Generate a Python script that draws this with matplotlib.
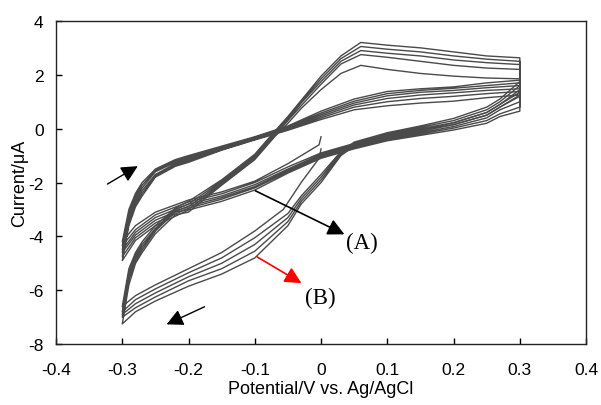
#Cyclic voltammogram, two sets of repeated scans (A) and (B)

import numpy as np
import matplotlib.pyplot as plt

plt.rcParams['font.family'] = ['Liberation Sans', 'DejaVu Sans']
plt.rcParams['axes.unicode_minus'] = False

#Set (A): smaller loops
start_A_E = [0.0, -0.003, -0.05, -0.1]
start_A_I = [-0.3, -0.6, -1.3, -1.95]

cath_A_E = [0.3, 0.27, 0.25, 0.2, 0.15, 0.1, 0.05, 0.0, -0.05, -0.1, -0.15, -0.2, -0.25, -0.28, -0.3]
cath_A_I = [
    [1.5, 1.0, 0.7, 0.3, 0.0, -0.2, -0.5, -0.85, -1.35, -1.95, -2.35, -2.65, -3.1, -3.6, -4.2],
    [1.35, 0.9, 0.6, 0.22, -0.05, -0.25, -0.55, -0.9, -1.42, -2.0, -2.42, -2.72, -3.2, -3.75, -4.35],
    [1.2, 0.8, 0.5, 0.15, -0.1, -0.3, -0.6, -0.95, -1.5, -2.08, -2.5, -2.8, -3.3, -3.85, -4.5],
    [1.0, 0.7, 0.4, 0.08, -0.15, -0.35, -0.65, -1.0, -1.55, -2.15, -2.56, -2.88, -3.4, -3.95, -4.6],
    [0.8, 0.55, 0.3, 0.02, -0.2, -0.4, -0.7, -1.05, -1.6, -2.2, -2.62, -2.95, -3.5, -4.05, -4.75],
    [0.65, 0.45, 0.2, -0.05, -0.25, -0.45, -0.75, -1.1, -1.65, -2.28, -2.7, -3.02, -3.6, -4.15, -4.9],
]

an_A_E = [-0.3, -0.29, -0.28, -0.27, -0.25, -0.22, -0.2, -0.15, -0.1, -0.05, 0.0, 0.05, 0.1, 0.15, 0.2, 0.25, 0.3]
an_A_I = [
    [-4.2, -3.0, -2.4, -2.0, -1.5, -1.15, -1.0, -0.65, -0.3, 0.1, 0.65, 1.1, 1.38, 1.48, 1.55, 1.7, 1.8],
    [-4.35, -3.15, -2.5, -2.1, -1.55, -1.2, -1.05, -0.7, -0.33, 0.07, 0.58, 1.02, 1.3, 1.42, 1.5, 1.6, 1.7],
    [-4.5, -3.3, -2.6, -2.2, -1.6, -1.25, -1.1, -0.72, -0.36, 0.04, 0.52, 0.95, 1.22, 1.35, 1.42, 1.52, 1.6],
    [-4.6, -3.4, -2.7, -2.3, -1.7, -1.3, -1.15, -0.75, -0.38, 0.0, 0.46, 0.88, 1.12, 1.25, 1.33, 1.42, 1.48],
    [-4.75, -3.5, -2.8, -2.4, -1.75, -1.35, -1.2, -0.78, -0.4, -0.03, 0.4, 0.8, 1.0, 1.12, 1.2, 1.3, 1.38],
    [-4.9, -3.6, -2.9, -2.5, -1.8, -1.4, -1.25, -0.8, -0.42, -0.06, 0.34, 0.7, 0.85, 0.95, 1.02, 1.15, 1.25],
]

#Set (B): larger loops with the anodic peak near 0.06 V
start_B_E = [0.0, -0.003, -0.03, -0.057, -0.1]
start_B_I = [-0.75, -1.1, -2.0, -3.0, -3.8]

cath_B_E = [0.3, 0.27, 0.25, 0.2, 0.15, 0.1, 0.05, 0.03, 0.0, -0.03, -0.05, -0.1, -0.15, -0.2, -0.25, -0.28, -0.3]
cath_B_I = [
    [1.9, 1.2, 0.9, 0.45, 0.15, -0.1, -0.45, -0.8, -1.6, -2.4, -3.0, -3.8, -4.6, -5.2, -5.8, -6.2, -6.6],
    [1.75, 1.1, 0.8, 0.38, 0.1, -0.15, -0.5, -0.85, -1.7, -2.5, -3.15, -4.05, -4.8, -5.35, -5.95, -6.35, -6.8],
    [1.6, 1.0, 0.7, 0.3, 0.05, -0.2, -0.55, -0.9, -1.8, -2.6, -3.3, -4.3, -5.0, -5.5, -6.1, -6.5, -6.9],
    [1.45, 0.9, 0.6, 0.22, 0.0, -0.25, -0.6, -0.95, -1.9, -2.7, -3.45, -4.55, -5.2, -5.65, -6.25, -6.65, -7.0],
    [1.25, 0.8, 0.5, 0.15, -0.05, -0.3, -0.65, -1.0, -2.0, -2.8, -3.6, -4.8, -5.4, -5.85, -6.4, -6.8, -7.25],
]

an_B_E = [-0.3, -0.29, -0.28, -0.27, -0.25, -0.22, -0.2, -0.15, -0.1, -0.07, -0.05, -0.03, 0.0, 0.03, 0.06, 0.1, 0.15, 0.2, 0.25, 0.3]
an_B_I = [
    [-6.6, -5.2, -4.6, -4.2, -3.6, -2.95, -2.7, -1.9, -0.95, -0.1, 0.45, 1.05, 1.95, 2.7, 3.2, 3.1, 3.0, 2.85, 2.7, 2.63],
    [-6.8, -5.35, -4.7, -4.3, -3.7, -3.0, -2.8, -1.95, -1.0, -0.15, 0.4, 1.0, 1.85, 2.6, 3.05, 2.95, 2.85, 2.7, 2.58, 2.5],
    [-6.9, -5.5, -4.8, -4.4, -3.75, -3.05, -2.9, -2.0, -1.05, -0.2, 0.35, 0.95, 1.75, 2.5, 2.9, 2.8, 2.7, 2.55, 2.45, 2.38],
    [-7.0, -5.6, -4.9, -4.5, -3.8, -3.1, -3.0, -2.05, -1.1, -0.25, 0.3, 0.85, 1.65, 2.4, 2.75, 2.65, 2.5, 2.35, 2.25, 2.2],
    [-7.25, -5.8, -5.0, -4.6, -3.9, -3.2, -3.1, -2.1, -1.15, -0.3, 0.2, 0.75, 1.45, 2.05, 2.35, 2.2, 2.05, 1.95, 1.88, 1.85],
]

x_ticks = [-0.4, -0.3, -0.2, -0.1, 0.0, 0.1, 0.2, 0.3, 0.4]
x_tick_labels = ['-0.4', '-0.3', '-0.2', '-0.1', '0', '0.1', '0.2', '0.3', '0.4']
y_ticks = [-8, -6, -4, -2, 0, 2, 4]


def scan_path(start_E, start_I, cath_E, cath_I, an_E, an_I):
    #chain start segment, then cathodic/anodic sweeps cycle by cycle
    E, I = list(start_E), list(start_I)
    for k in range(len(cath_I)):
        for e, i in zip(cath_E, cath_I[k]):
            if k == 0 and e >= start_E[-1]:
                continue
            E.append(e)
            I.append(i)
        E += an_E
        I += an_I[k]
    return np.array(E), np.array(I)


def main():
    fig = plt.figure(figsize=(6.01, 4.06), dpi=100)
    ax = fig.add_axes([0.0932, 0.150, 0.882, 0.796])

    line_col = '#4a4a4a'
    for args in [(start_A_E, start_A_I, cath_A_E, cath_A_I, an_A_E, an_A_I),
                 (start_B_E, start_B_I, cath_B_E, cath_B_I, an_B_E, an_B_I)]:
        E, I = scan_path(*args)
        ax.plot(E, I, color=line_col, lw=1.0)

    ax.set_xlim(-0.4, 0.4)
    ax.set_ylim(-8, 4)
    ax.set_xticks(x_ticks)
    ax.set_xticklabels(x_tick_labels)
    ax.set_yticks(y_ticks)
    ax.tick_params(direction='in', length=4, width=1.0, labelsize=12.5, colors='black')
    ax.tick_params(axis='x', pad=13)
    ax.tick_params(axis='y', pad=9)
    for s in ax.spines.values():
        s.set_linewidth(1.0)
        s.set_color('#222222')

    ax.set_xlabel('Potential/V vs. Ag/AgCl', fontsize=13, labelpad=2)
    ax.set_ylabel('Current/\u03bcA', fontsize=13, labelpad=0)

    head = '-|>,head_length=0.4,head_width=0.2'
    #scan direction arrows
    ax.annotate('', xy=(-0.273, -1.34), xytext=(-0.326, -2.11),
                arrowprops=dict(arrowstyle=head, mutation_scale=25, color='black', lw=1.0))
    ax.annotate('', xy=(-0.237, -7.31), xytext=(-0.172, -6.57),
                arrowprops=dict(arrowstyle=head, mutation_scale=25, color='black', lw=1.0))
    #labels for the two sets
    ax.annotate('', xy=(0.039, -3.97), xytext=(-0.103, -2.26),
                arrowprops=dict(arrowstyle=head, mutation_scale=25, color='black', lw=1.2))
    ax.annotate('', xy=(-0.026, -5.79), xytext=(-0.1, -4.71),
                arrowprops=dict(arrowstyle=head, mutation_scale=25, color='red', lw=1.2))
    ax.text(0.038, -4.23, '(A)', fontsize=16.5, family=['Liberation Serif', 'DejaVu Serif'],
            ha='left', va='center')
    ax.text(-0.024, -6.27, '(B)', fontsize=16.5, family=['Liberation Serif', 'DejaVu Serif'],
            ha='left', va='center')

    fig.savefig('out.png', dpi=100)


if __name__ == "__main__":
    main()
